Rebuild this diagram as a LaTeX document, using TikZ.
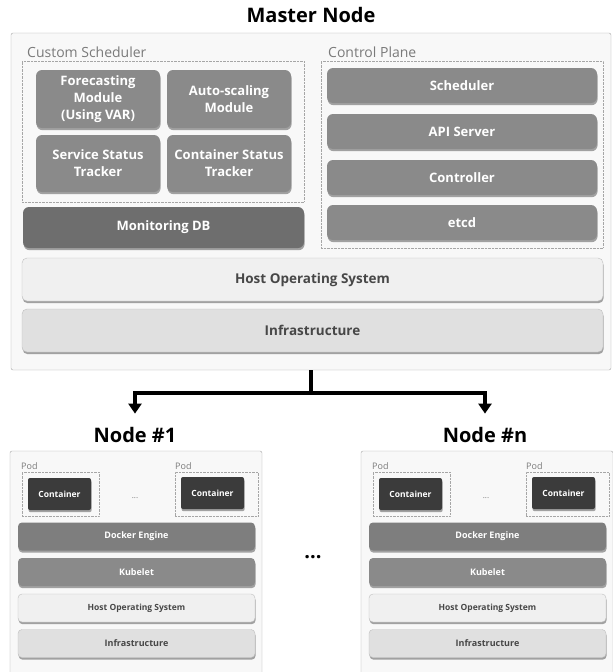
\documentclass[tikz,border=0pt]{standalone}
\usepackage{fontspec}
\setsansfont{Open Sans}
\usepackage{tikz}
\usetikzlibrary{arrows.meta,positioning,shadows,backgrounds}
\tikzstyle{every picture}+=[font=\sffamily]

\definecolor{framebg}{HTML}{F8F8F8}
\definecolor{modgray}{HTML}{8A8A8A}
\definecolor{dbgray}{HTML}{6E6E6E}
\definecolor{hostgray}{HTML}{F0F0F0}
\definecolor{infgray}{HTML}{E0E0E0}
\definecolor{ctrgray}{HTML}{3B3B3B}
\definecolor{dockgray}{HTML}{7E7E7E}
\definecolor{labgray}{HTML}{7A7A7A}

\begin{document}
\begin{tikzpicture}
	[font=\sffamily, x=1pt, y=-1pt, inner sep=0pt,
	frame/.style	= {rectangle, rounded corners=2pt, draw=black!35, fill=framebg},
	group/.style	= {rectangle, draw=black!35, densely dotted},
	shade/.style	= {drop shadow={shadow xshift=0.6pt, shadow yshift=-2.2pt, fill=black!45, opacity=0.8}},
	module/.style	= {rectangle, rounded corners=6pt, fill=modgray, text=white, align=center, shade,
				font=\sffamily\bfseries\fontsize{13}{17}\selectfont},
	layer/.style	= {rectangle, rounded corners=5pt, draw=black!25, fill=hostgray, text=black!72, shade,
				font=\sffamily\bfseries\fontsize{13.5}{16}\selectfont},
	slayer/.style	= {rectangle, rounded corners=4pt, fill=dockgray, text=white, shade,
				minimum width=237pt, minimum height=28pt, font=\sffamily\bfseries\fontsize{9}{11}\selectfont},
	box/.style	= {rectangle, rounded corners=2pt, fill=ctrgray, text=white, shade,
				minimum width=63pt, minimum height=32pt, font=\sffamily\bfseries\fontsize{8.5}{10}\selectfont},
	title/.style	= {font=\sffamily\bfseries\fontsize{20}{24}\selectfont, anchor=base},
	caption/.style	= {anchor=west, text=labgray, font=\sffamily\fontsize{14}{16}\selectfont},
	bus/.style	= {line width=3.6pt, black},
	tip/.style	= {-{Triangle[width=13pt,length=10pt]}, shorten >= 13pt}]

	\useasboundingbox (0, 0) rectangle (613, 672);

	% master node
	\node at (311, 22)	[title]		(mtitle)	{Master Node};
	\node at (311, 201.5)	[frame, minimum width=600pt, minimum height=337pt]	(master)	{};

	\node at (27, 52)	[caption]	(cslab)	{Custom Scheduler};
	\node at (163, 131.5)	[group, minimum width=282pt, minimum height=141pt]	(cs)	{};
	\node at (98, 99)	[module, minimum width=124pt, minimum height=58pt]	(fm)	{Forecasting\\Module\\(Using VAR)};
	\node at (229, 99)	[module, minimum width=124pt, minimum height=58pt]	(am)	{Auto-scaling\\Module};
	\node at (98, 163.5)	[module, minimum width=124pt, minimum height=57pt]	(sst)	{Service Status\\Tracker};
	\node at (229, 163.5)	[module, minimum width=124pt, minimum height=57pt]	(cst)	{Container Status\\Tracker};
	\node at (163.5, 227.5)	[module, fill=dbgray, minimum width=281pt, minimum height=41pt]	(mdb)	{Monitoring DB};

	\node at (328, 52)	[caption]	(cplab)	{Control Plane};
	\node at (462, 154.5)	[group, minimum width=282pt, minimum height=187pt]	(cp)	{};
	\node at (462, 85.5)	[module, minimum width=270pt, minimum height=35pt]	(sch)	{Scheduler};
	\node at (462, 131.5)	[module, minimum width=270pt, minimum height=35pt]	(api)	{API Server};
	\node at (462, 177.5)	[module, minimum width=270pt, minimum height=35pt]	(ctl)	{Controller};
	\node at (462, 222.5)	[module, minimum width=270pt, minimum height=35pt]	(etcd)	{etcd};

	\node at (312.5, 279.5)	[layer, minimum width=581pt, minimum height=43pt]	(mhos)	{Host Operating System};
	\node at (312.5, 330.5)	[layer, fill=infgray, minimum width=581pt, minimum height=43pt]	(minf)	{Infrastructure};

	% worker nodes
	\node at (135, 442)	[title]		(n1lab)	{Node \#1};
	\node at (485, 442)	[title]		(nnlab)	{Node \#n};

	\coordinate (split) at (311, 393);
	\draw [bus] (master.south) -- (split);
	\draw [bus, tip] (split) -| (n1lab.north);
	\draw [bus, tip] (split) -| (nnlab.north);

	\foreach \dx/\w in {0/1, 351/n} {
		\begin{scope}[xshift=\dx pt]
		\node at (136, 563.5)	[frame, minimum width=252pt, minimum height=225pt]	(node\w)	{};
		\node at (21, 466)	[caption, font=\sffamily\fontsize{9}{10}\selectfont]	(pod\w a)	{Pod};
		\node at (60.5, 494)	[group, minimum width=77pt, minimum height=44pt]	(pg\w a)	{};
		\node at (59.5, 494)	[box]	(ct\w a)	{Container};
		\node at (175, 466)	[caption, font=\sffamily\fontsize{9}{10}\selectfont]	(pod\w b)	{Pod};
		\node at (216.5, 494)	[group, minimum width=83pt, minimum height=44pt]	(pg\w b)	{};
		\node at (212.5, 493)	[box]	(ct\w b)	{Container};
		\node at (135, 498)	[text=labgray, font=\sffamily\fontsize{8}{9}\selectfont]	(dots\w)	{...};
		\node at (136.5, 536.5)	[slayer]	(de\w)	{Docker Engine};
		\node at (136.5, 572)	[slayer, fill=modgray]	(kl\w)	{Kubelet};
		\node at (136.5, 608)	[slayer, draw=black!25, fill=hostgray, text=black!72, font=\sffamily\bfseries\fontsize{8.5}{10}\selectfont]	(hos\w)	{Host Operating System};
		\node at (136.5, 643.5)	[slayer, draw=black!25, fill=infgray, text=black!72]	(inf\w)	{Infrastructure};
		\end{scope}
	}

	\node at (313, 557)	[font=\sffamily\bfseries\fontsize{20}{22}\selectfont]	(more)	{...};

\end{tikzpicture}
\end{document}
